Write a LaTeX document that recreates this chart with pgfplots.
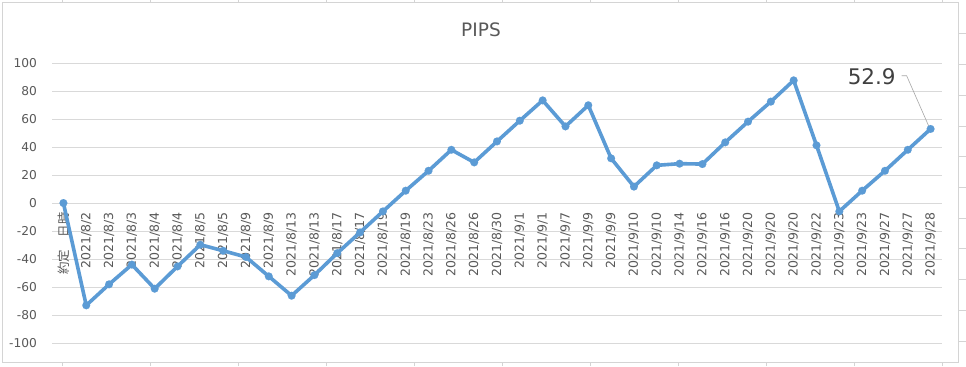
\documentclass[border=0pt]{standalone}
\usepackage{pgfplots}
\pgfplotsset{compat=1.18}
\usepackage{pgfplotstable}
\usepackage{fontspec}
\setmainfont{DejaVu Sans}
\newfontfamily\cjk{Noto Sans CJK JP}
\definecolor{lineblue}{HTML}{5B9BD5}
\definecolor{gridgray}{HTML}{D9D9D9}
\definecolor{txtgray}{HTML}{595959}
\definecolor{framegray}{HTML}{D4D4D4}
\definecolor{lblgray}{HTML}{404040}

\pgfplotstableread{
x y
0 0
1 -73.1
2 -58.1
3 -44.0
4 -61.2
5 -45.3
6 -29.8
7 -34.1
8 -38.6
9 -52.4
10 -66.2
11 -51.5
12 -35.8
13 -21.0
14 -6.0
15 8.8
16 23.0
17 38.0
18 29.0
19 44.0
20 58.8
21 73.3
22 54.7
23 69.8
24 31.9
25 11.7
26 26.9
27 28.1
28 27.8
29 43.3
30 58.1
31 72.4
32 87.6
33 41.2
34 -6.0
35 8.8
36 23.0
37 38.0
38 52.9
}\pips

\begin{document}
\begin{tikzpicture}[x=1bp,y=1bp]
\path[use as bounding box] (0,0) rectangle (966,366);
% chart frame and spreadsheet cell borders
\foreach \cx in {62,150,238,326,414,502,590,678,766,854,942} {
  \draw[color=framegray, line width=0.75bp] (\cx,366) -- (\cx,364);
  \draw[color=framegray, line width=0.75bp] (\cx,0) -- (\cx,4);
}
\foreach \cy in {333,302,271,240,210,179,148,118,87,56,25} {
  \draw[color=framegray, line width=0.75bp] (958,\cy) -- (966,\cy);
}
\draw[color=framegray, line width=0.75bp, fill=white] (2,4) rectangle (958,364);
\node[font=\fontsize{18.5bp}{22bp}\selectfont, text=txtgray] at (481,336) {PIPS};
\begin{axis}[
  at={(52bp,23bp)}, anchor=south west, scale only axis,
  width=890bp, height=280bp,
  xmin=-0.5, xmax=38.5, ymin=-100, ymax=100,
  axis x line=middle, axis y line=left,
  axis line style={draw=none},
  hide obscured x ticks=false, hide obscured y ticks=false,
  ytick={-100,-80,...,100},
  ymajorgrids, grid style={gridgray, line width=0.75bp},
  xtick={0,...,38},
  xticklabels={{\cjk 約定　日時},2021/8/2,2021/8/3,2021/8/3,2021/8/4,2021/8/4,2021/8/5,2021/8/5,2021/8/9,2021/8/9,2021/8/13,2021/8/13,2021/8/17,2021/8/17,2021/8/19,2021/8/19,2021/8/23,2021/8/26,2021/8/26,2021/8/30,2021/9/1,2021/9/1,2021/9/7,2021/9/9,2021/9/9,2021/9/10,2021/9/10,2021/9/14,2021/9/16,2021/9/16,2021/9/20,2021/9/20,2021/9/20,2021/9/22,2021/9/23,2021/9/23,2021/9/27,2021/9/27,2021/9/28},
  major tick length=0pt,
  tick label style={font=\fontsize{12.5bp}{14bp}\selectfont, text=txtgray},
  xticklabel style={rotate=90, anchor=east, inner sep=0pt},
  xticklabel shift=9bp,
  yticklabel style={anchor=east, inner sep=0pt, xshift=-15bp, font=\fontsize{12.2bp}{14bp}\selectfont},
  /pgf/number format/assume math mode=true,
  clip=false,
]
\addplot[lineblue, line width=3.6bp, line join=round, mark=*, mark size=3.9bp,
  mark options={solid, fill=lineblue, draw=lineblue, line width=0.1bp}]
  table[x=x,y=y]{\pips};
\node[font=\fontsize{21.5bp}{24bp}\selectfont, text=lblgray] at (axis cs:35.42,90.2) {52.9};
\draw[color=gray!70, line width=0.6bp] (axis cs:36.73,90.9) -- (axis cs:36.95,90.9) -- (axis cs:37.93,54.5);
\end{axis}
\end{tikzpicture}
\end{document}
